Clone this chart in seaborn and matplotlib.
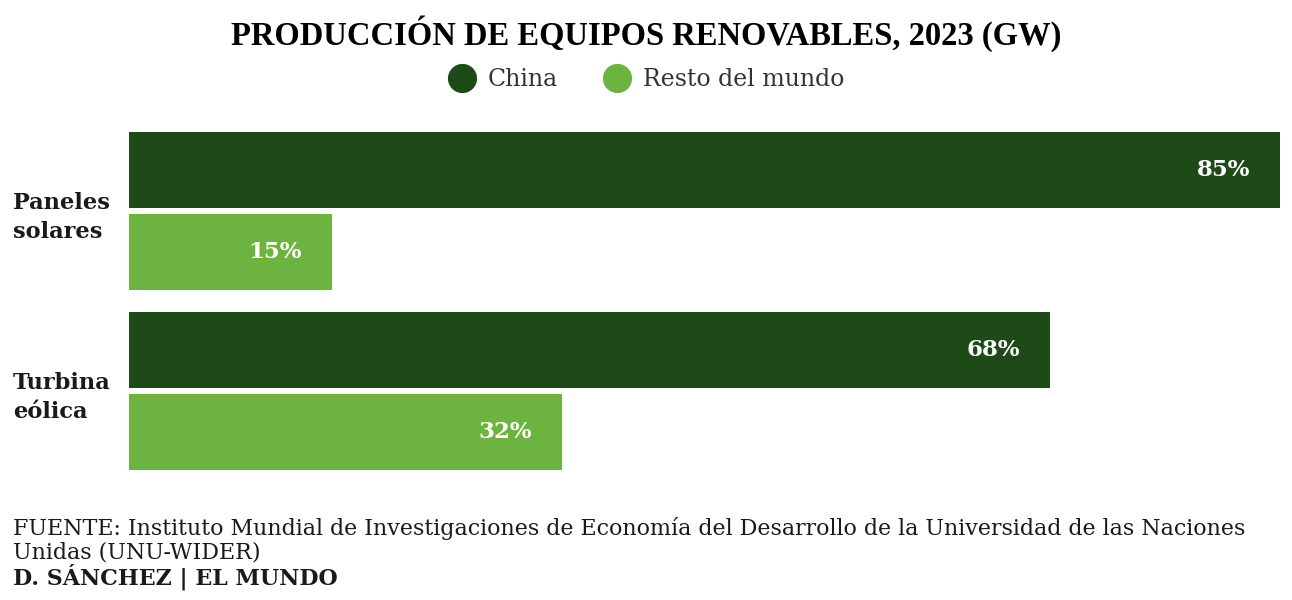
import matplotlib
matplotlib.use("Agg")
import matplotlib.pyplot as plt
from matplotlib.lines import Line2D
import seaborn as sns
import pandas as pd

# ---- data ----
categories = ["Paneles\nsolares", "Turbina\neólica"]
series_names = ["China", "Resto del mundo"]
china = [85, 68]
resto = [15, 32]
title = "PRODUCCIÓN DE EQUIPOS RENOVABLES, 2023 (GW)"
source_line1 = "FUENTE: Instituto Mundial de Investigaciones de Economía del Desarrollo de la Universidad de las Naciones"
source_line2 = "Unidas (UNU-WIDER)"
credit = "D. SÁNCHEZ | EL MUNDO"

DARK = "#1e4a18"
LIGHT = "#6db33f"
TXT = "#1a1a1a"

df = pd.DataFrame({
    "cat": categories * 2,
    "serie": [series_names[0]] * 2 + [series_names[1]] * 2,
    "val": china + resto,
})

sns.set_theme(style="white")
plt.rcParams["font.family"] = ["DejaVu Serif", "DejaVu Sans"]

W, H = 1292, 600
fig = plt.figure(figsize=(W / 100, H / 100), dpi=100)
ax = fig.add_axes([129 / W, 1 - 481.5 / H, (1280 - 129) / W, 360.5 / H])

sns.barplot(data=df, y="cat", x="val", hue="serie", orient="h",
            palette=[DARK, LIGHT], width=0.909, gap=0.073,
            saturation=1, legend=False, linewidth=0, ax=ax)
ax.set_xlim(0, 85)
ax.set_ylim(1.5, -0.5)
ax.set_xlabel("")
ax.set_ylabel("")
ax.set_xticks([])
for s in ax.spines.values():
    s.set_visible(False)

ax.tick_params(axis="y", length=0, pad=116 * 0.72)
for lab in ax.get_yticklabels():
    lab.set_ha("left")
    lab.set_fontweight("bold")
    lab.set_fontsize(16.2)
    lab.set_color(TXT)
    lab.set_linespacing(1.42)

for cont in ax.containers:
    for p in cont:
        v = p.get_width()
        yc = p.get_y() + p.get_height() / 2
        ax.annotate(f"{v:.0f}%", xy=(v, yc), xytext=(-30, 0),
                    textcoords="offset pixels", ha="right", va="center",
                    color="white", fontweight="bold", fontsize=16.5)

# title
t = fig.text(0.5, 1 - 45 / H, title, ha="center", va="baseline",
             fontsize=26, fontweight="bold", color="black",
             family=["Liberation Serif", "DejaVu Serif"])

# legend
handles = [Line2D([], [], marker="o", linestyle="", markersize=20,
                  markerfacecolor=c, markeredgecolor=c) for c in (DARK, LIGHT)]
fig.legend(handles, series_names, loc="center", bbox_to_anchor=(646 / W, 1 - 80 / H),
           ncol=2, frameon=False, fontsize=17, handlelength=1.2,
           handletextpad=0.5, columnspacing=1.9, labelcolor="#333333")

# footer
f1 = fig.text(13 / W, 1 - 535 / H, source_line1, ha="left", va="baseline",
              fontsize=15, color=TXT)
f2 = fig.text(13 / W, 1 - 558 / H, source_line2, ha="left", va="baseline",
              fontsize=15, color=TXT)
f3 = fig.text(13 / W, 1 - 585 / H, credit, ha="left", va="baseline",
              fontsize=15, fontweight="bold", color=TXT)

# fit widths to reference
fig.canvas.draw()
r = fig.canvas.get_renderer()
def fit(txt, target):
    w = txt.get_window_extent(r).width
    txt.set_fontsize(txt.get_fontsize() * target / w)
fit(t, 830)
fit(f1, 1235)
f2.set_fontsize(f1.get_fontsize())
f3.set_fontsize(f1.get_fontsize())

fig.savefig("out.png", dpi=100)
